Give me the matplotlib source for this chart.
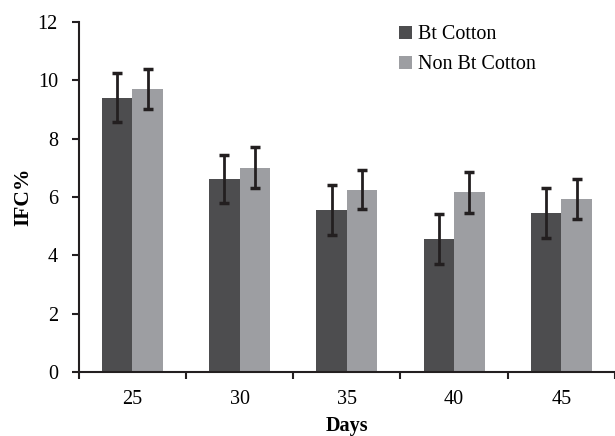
import numpy as np
import matplotlib.pyplot as plt

days = ["25", "30", "35", "40", "45"]
bt_cotton = [9.4, 6.6, 5.55, 4.55, 5.45]
bt_err = [0.83, 0.82, 0.86, 0.85, 0.85]
non_bt_cotton = [9.7, 7.0, 6.25, 6.15, 5.93]
non_bt_err = [0.69, 0.7, 0.68, 0.71, 0.69]

plt.rcParams['font.family'] = ['Liberation Serif', 'DejaVu Serif']

fig = plt.figure(figsize=(6.15, 4.36), dpi=100)
ax = fig.add_axes([0.128, 0.147, 0.872, 0.803])

x = np.arange(len(days))
w = 0.285
err_style = dict(ecolor='#231f20', elinewidth=2, capsize=3.5, capthick=2.5)
ax.bar(x - w / 2, bt_cotton, w, color='#4d4d4f', label='Bt Cotton',
       yerr=bt_err, error_kw=err_style)
ax.bar(x + w / 2, non_bt_cotton, w, color='#9d9ea2', label='Non Bt Cotton',
       yerr=non_bt_err, error_kw=err_style)

ax.set_xlim(-0.5, len(days) - 0.5)
ax.set_ylim(0, 12)
ax.set_yticks(range(0, 13, 2))
ax.set_xticks(x)
ax.set_xticklabels(days)
ax.set_xticks(np.arange(-0.5, len(days)), minor=True)
ax.tick_params(axis='x', which='major', length=0, pad=13, labelsize=14.5)
ax.tick_params(axis='x', which='minor', length=5, width=1.5, direction='out', color='#231f20')
ax.tick_params(axis='y', length=5, width=1.5, direction='out', color='#231f20', labelsize=14.5, pad=10)

for s in ['top', 'right']:
    ax.spines[s].set_visible(False)
for s in ['left', 'bottom']:
    ax.spines[s].set_linewidth(1.5)
    ax.spines[s].set_color('#231f20')

ax.set_xlabel('Days', fontsize=14.5, fontweight='bold', labelpad=5)
ax.set_ylabel('IFC%', fontsize=15.5, fontweight='bold', labelpad=3)

ax.legend(loc='upper left', bbox_to_anchor=(0.583, 1.013), frameon=False,
          fontsize=14.5, handlelength=0.6, handleheight=0.6, handletextpad=0.3,
          labelspacing=0.55, borderaxespad=0)

fig.savefig('out.png', dpi=100)
